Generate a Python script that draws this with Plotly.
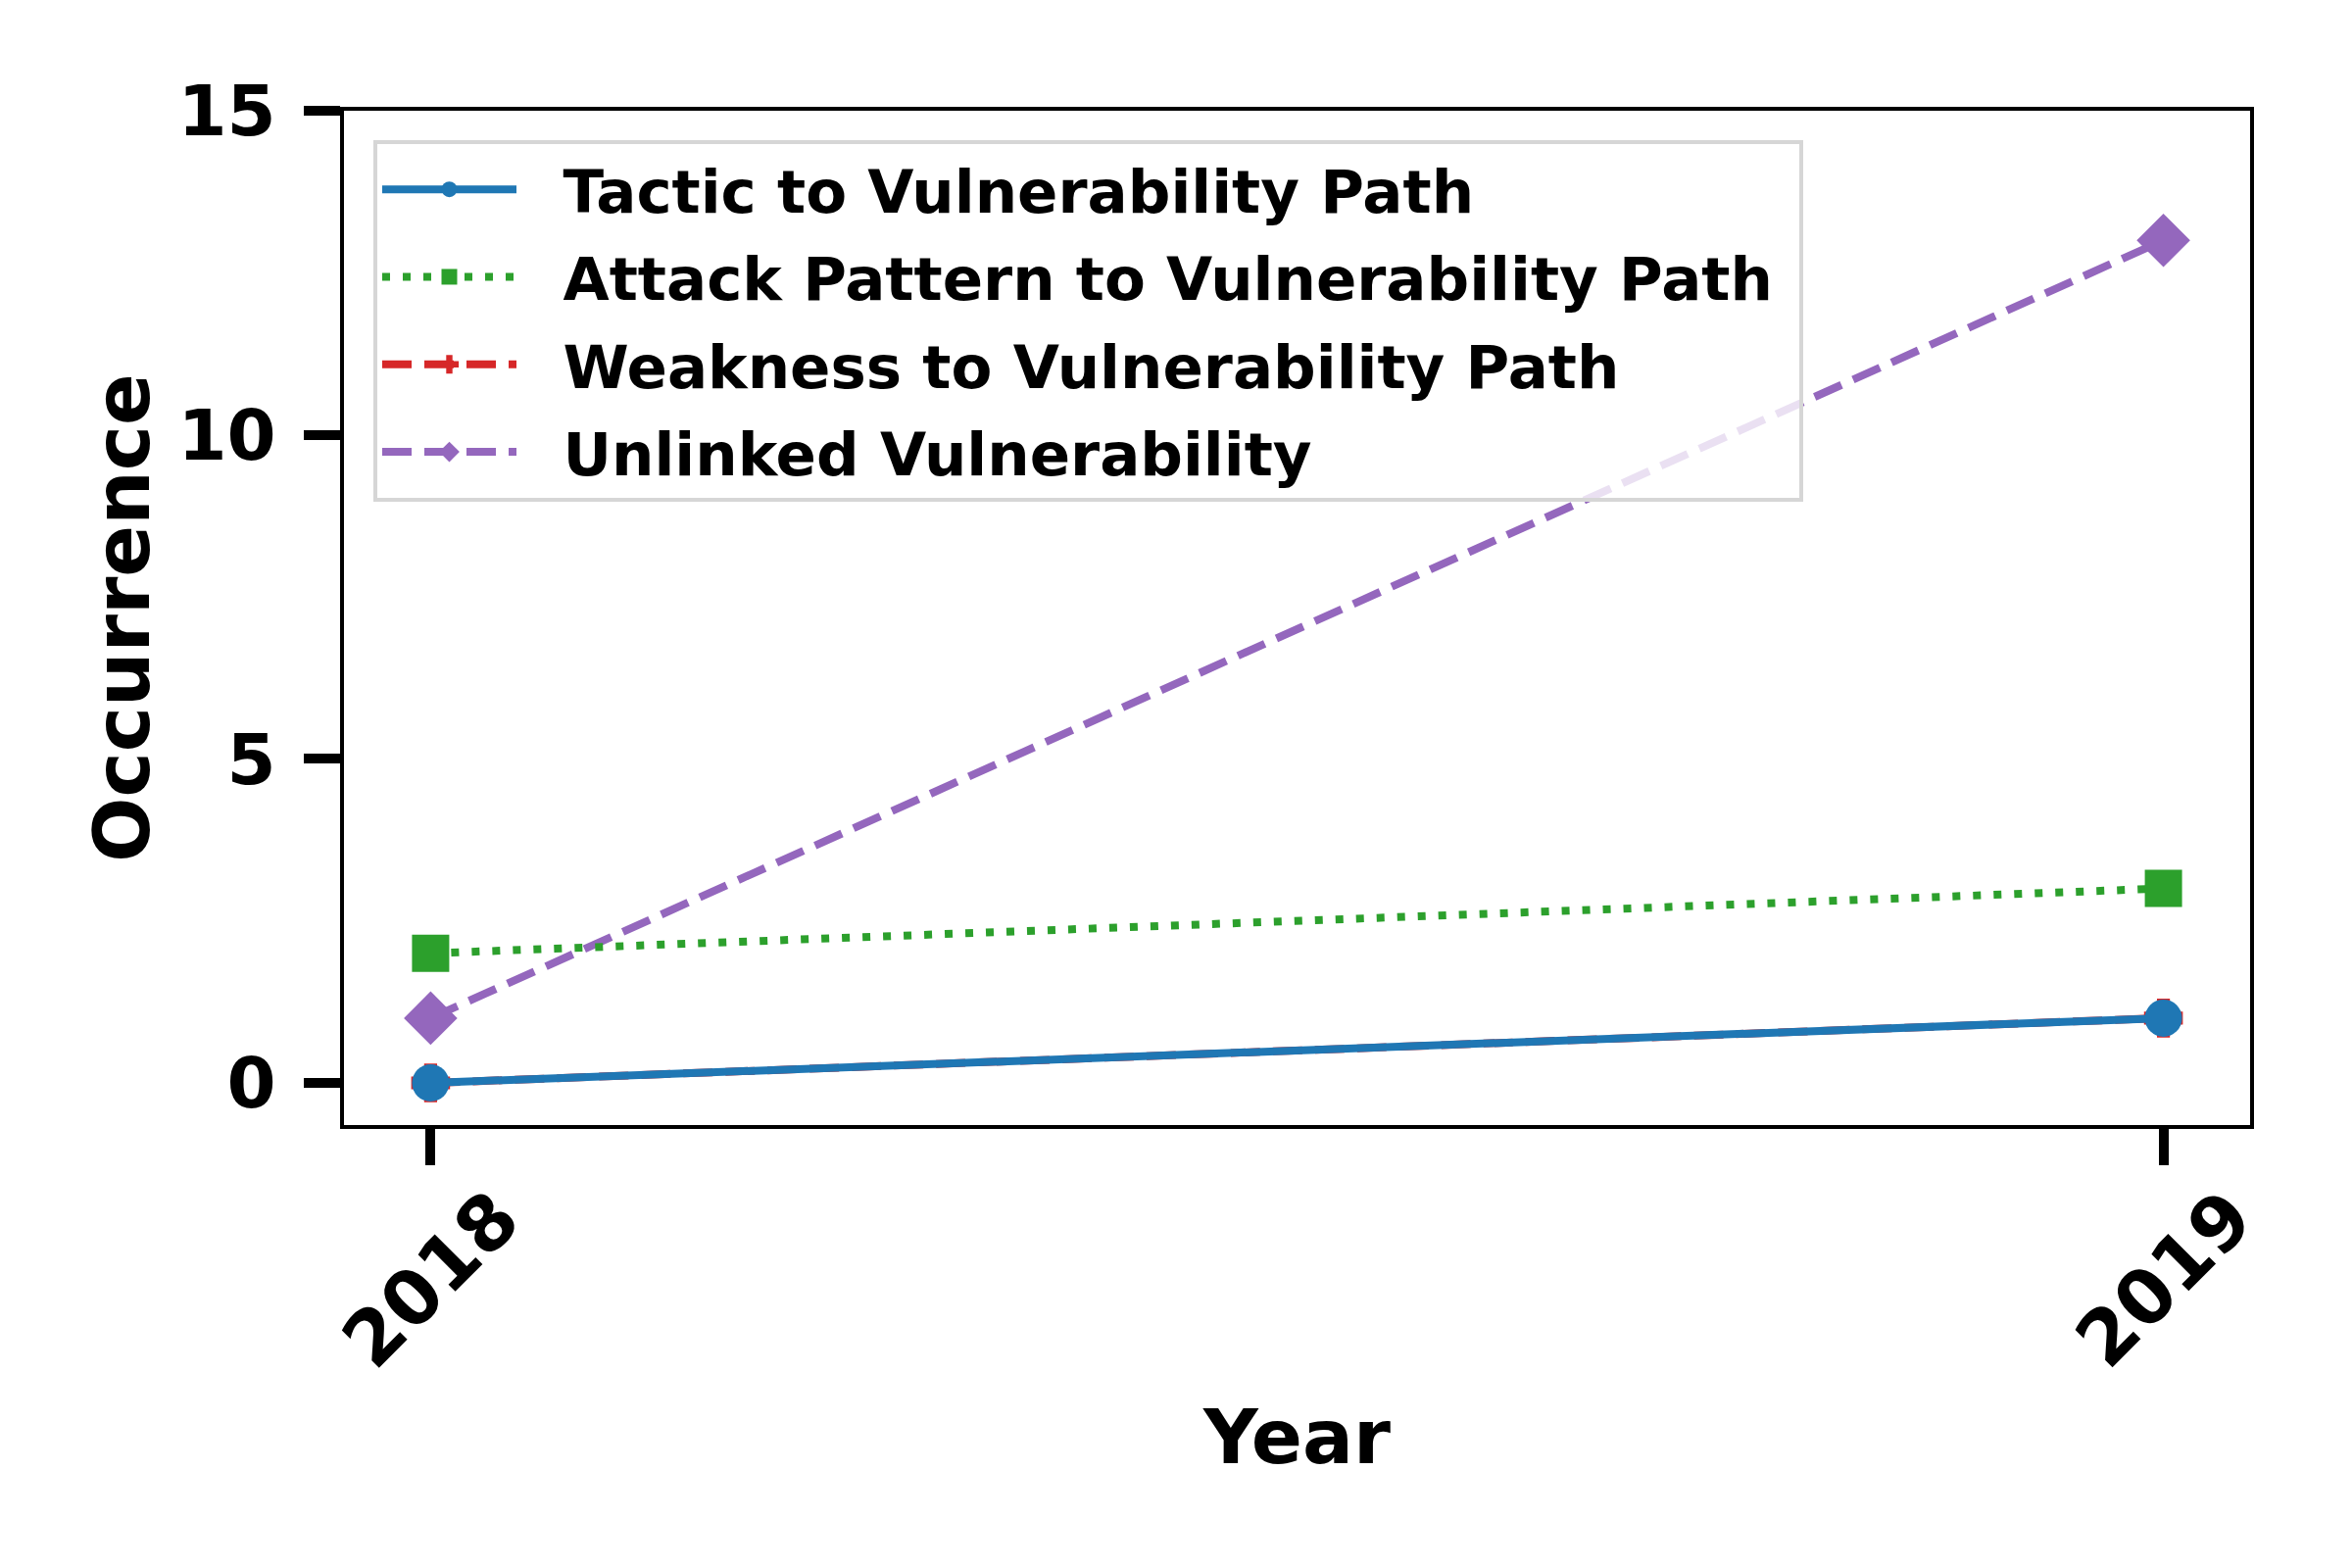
import plotly.graph_objects as go

years = [2018, 2019]
year_labels = ["2018", "2019"]
tactic = [0, 1]
attack = [2, 3]
weakness = [0, 1]
unlinked = [1, 13]
y_ticks = [0, 5, 10, 15]

FONT = "DejaVu Sans"
W, H = 2400, 1600
L, R, T, B = 351, 104, 113, 452
PAD = "\u00a0\u00a0"
END = "\u00a0"

fig = go.Figure()

# draw order: purple, green, red, blue (blue on top)
fig.add_trace(go.Scatter(
    x=years, y=unlinked, name=PAD + "Unlinked Vulnerability" + END, legendrank=4, legendgroup="d",
    mode="lines+markers",
    line=dict(color="#9467bd", width=8, dash="30px,13px"),
    marker=dict(symbol="diamond", size=42, color="#9467bd", line=dict(width=0)),
))
fig.add_trace(go.Scatter(
    x=years, y=attack, name=PAD + "Attack Pattern to Vulnerability Path" + END, legendrank=2, legendgroup="b",
    mode="lines+markers",
    line=dict(color="#2ca02c", width=8, dash="8px,13px"),
    marker=dict(symbol="square", size=38, color="#2ca02c", line=dict(width=0)),
))
fig.add_trace(go.Scatter(
    x=years, y=weakness, name=PAD + "Weakness to Vulnerability Path" + END, legendrank=3, legendgroup="c",
    mode="lines+markers",
    line=dict(color="#d62728", width=8, dash="30px,13px"),
    marker=dict(symbol="cross", size=33, color="#d62728", line=dict(width=0)),
))
fig.add_trace(go.Scatter(
    x=years, y=tactic, name=PAD + "Tactic to Vulnerability Path" + END, legendrank=1, legendgroup="a",
    mode="lines+markers",
    line=dict(color="#1f77b4", width=8),
    marker=dict(symbol="circle", size=38, color="#1f77b4", line=dict(width=0)),
))

# rotated x tick labels (centered on tick like matplotlib)
for xv, lab in zip(years, year_labels):
    fig.add_annotation(
        x=xv, xref="x", y=0, yref="paper", yanchor="middle", xanchor="center",
        yshift=-157, text="<b>" + lab + "</b>", textangle=-45, showarrow=False,
        font=dict(family=FONT, size=77, color="black"),
    )

fig.update_layout(
    width=W, height=H,
    margin=dict(l=L, r=R, t=T, b=B, autoexpand=False),
    paper_bgcolor="white", plot_bgcolor="white",
    font=dict(family=FONT, color="black"),
    showlegend=True,
    legend=dict(
        x=30 / (W - L - R), y=1 - 30 / (H - T - B), xanchor="left", yanchor="top",
        bgcolor="rgba(255,255,255,0.8)", bordercolor="#d6d6d6", borderwidth=4,
        font=dict(family=FONT, size=61, color="black", weight="bold"),
        itemwidth=137, tracegroupgap=7,
    ),
    xaxis=dict(
        range=[2017.95, 2019.05], tickvals=years, showticklabels=False,
        ticks="outside", ticklen=37, tickwidth=10, tickcolor="black",
        showline=True, linecolor="black", linewidth=4, mirror=True,
        showgrid=False, zeroline=False,
        title=dict(text="<b>Year</b>", font=dict(family=FONT, size=77, color="black"), standoff=252),
    ),
    yaxis=dict(
        range=[-0.65, 15], tickvals=y_ticks, ticktext=["<b>%d</b>" % v for v in y_ticks],
        ticks="outside", ticklen=37, tickwidth=10, tickcolor="black",
        tickfont=dict(family=FONT, size=72, color="black"),
        ticklabelstandoff=14,
        showline=True, linecolor="black", linewidth=4, mirror=True,
        showgrid=False, zeroline=False,
        title=dict(text="<b>Occurrence</b>", font=dict(family=FONT, size=78, color="black"), standoff=4),
    ),
)

fig.write_html("out.html")
